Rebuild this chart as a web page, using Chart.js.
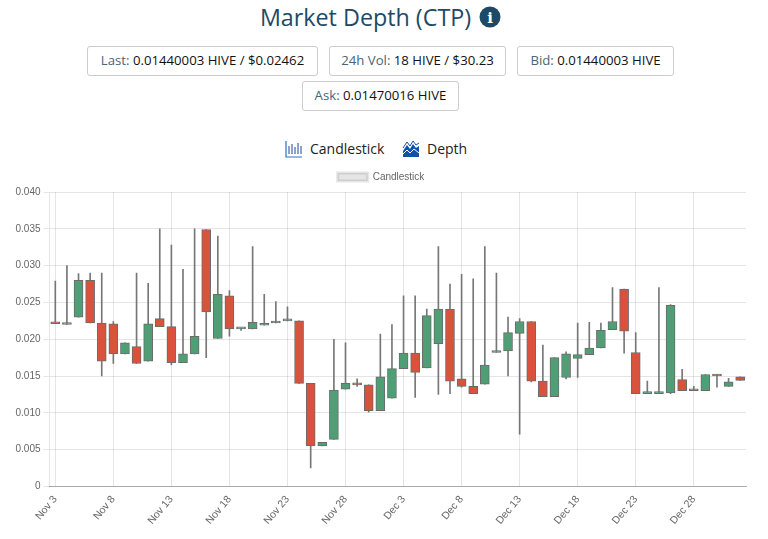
<!DOCTYPE html>
<html>
<head>
<meta charset="utf-8">
<title>Market Depth (CTP)</title>
<script src="https://cdn.jsdelivr.net/npm/chart.js@4/dist/chart.umd.min.js"></script>
<style>
body { margin: 0; background: #fff; width: 768px; height: 539px; overflow: hidden; position: relative; font-family: "Open Sans", sans-serif; }
h1 { position: absolute; left: 0; top: 0; width: 731px; margin: 0; text-align: center; font-size: 23.3px; line-height: 34px; font-weight: 400; color: #1d4a66; }
.info { position: absolute; left: 479px; top: 6px; }
.stat { position: absolute; box-sizing: border-box; height: 30px; border: 1px solid #ccc; border-radius: 3px; font-size: 13.2px; line-height: 27px; text-align: center; color: #111; white-space: nowrap; }
.stat span { color: #4a6478; }
.tab { position: absolute; top: 139px; font-size: 14px; line-height: 20px; color: #222; }
.tab svg { position: absolute; top: 2px; }
#wrap { position: absolute; left: 0; top: 163px; width: 768px; height: 371px; }
</style>
</head>
<body>
<h1>Market Depth (CTP)</h1>
<svg class="info" width="22" height="22" viewBox="0 0 22 22"><circle cx="11" cy="11" r="10.5" fill="#1d4a66"/><text x="11" y="16.5" text-anchor="middle" font-family="DejaVu Serif" font-weight="bold" font-size="15" fill="#fff">i</text></svg>
<div class="stat" style="left:87px;top:46px;width:231px"><span>Last:</span> 0.01440003 HIVE / $0.02462</div>
<div class="stat" style="left:329px;top:46px;width:177px"><span>24h Vol:</span> 18 HIVE / $30.23</div>
<div class="stat" style="left:517px;top:46px;width:157px"><span>Bid:</span> 0.01440003 HIVE</div>
<div class="stat" style="left:302px;top:81px;width:157px"><span>Ask:</span> 0.01470016 HIVE</div>
<div class="tab" style="left:310px">Candlestick<svg style="left:-25px" width="18" height="17" viewBox="0 0 18 17"><path d="M1 0V16H17" fill="none" stroke="#2f6fc4" stroke-width="1.2"/><path d="M4 5V13M7 3V13M10 6V13M13 2V13M16 5V13" stroke="#16469c" stroke-width="1"/></svg></div>
<div class="tab" style="left:427px">Depth<svg style="left:-25px" width="18" height="17" viewBox="0 0 18 17"><path d="M1 10L5 4L8 8L11 3L14 7L17 5V16H1Z" fill="#0f4fae"/><path d="M1 7L5 1L8 5L11 0L14 4L17 2" fill="none" stroke="#0f4fae" stroke-width="1"/><path d="M1 13L5 9L8 12L12 8L17 12" fill="none" stroke="#fff" stroke-width="1"/></svg></div>
<div id="wrap"><canvas id="myChart" width="768" height="371"></canvas></div>
<script>
const dateList = ['Nov 3','Nov 4','Nov 5','Nov 6','Nov 7','Nov 8','Nov 9','Nov 10','Nov 11','Nov 12',
    'Nov 13','Nov 14','Nov 15','Nov 16','Nov 17','Nov 18','Nov 19','Nov 20','Nov 21','Nov 22',
    'Nov 23','Nov 24','Nov 25','Nov 26','Nov 27','Nov 28','Nov 29','Nov 30','Dec 1','Dec 2',
    'Dec 3','Dec 4','Dec 5','Dec 6','Dec 7','Dec 8','Dec 9','Dec 10','Dec 11','Dec 12',
    'Dec 13','Dec 14','Dec 15','Dec 16','Dec 17','Dec 18','Dec 19','Dec 20','Dec 21','Dec 22',
    'Dec 23','Dec 24','Dec 25','Dec 26','Dec 27','Dec 28','Dec 29','Dec 30','Dec 31','Jan 1']
const openList = [.0222,.0220,.0230,.0280,.0222,.0221,.0180,.0190,.0170,.0228,
    .0217,.0168,.0180,.0349,.0201,.0259,.0214,.0214,.0219,.0222,
    .0225,.0225,.0140,.0055,.0064,.0132,.0140,.0138,.0103,.0120,
    .0160,.0181,.0161,.0194,.0241,.0146,.0136,.0139,.0182,.0184,
    .0208,.0224,.0143,.0122,.0148,.0174,.0179,.0188,.0213,.0268,
    .0182,.0126,.0126,.0127,.0145,.0130,.0130,.0152,.0136,.0149]
const closeList = [.0221,.0222,.0280,.0222,.0170,.0180,.0195,.0167,.0221,.0217,
    .0168,.0180,.0204,.0237,.0261,.0214,.0214,.0223,.0221,.0224,
    .0225,.0140,.0055,.0060,.0131,.0140,.0138,.0103,.0149,.0160,
    .0181,.0155,.0232,.0241,.0143,.0136,.0126,.0165,.0184,.0209,
    .0224,.0143,.0122,.0175,.0180,.0179,.0188,.0212,.0224,.0211,
    .0126,.0126,.0126,.0246,.0130,.0130,.0152,.0150,.0142,.0144]
const highList = [.0279,.0300,.0289,.0290,.0290,.0224,.0195,.0290,.0276,.0350,
    .0328,.0295,.0350,.0349,.0340,.0266,.0215,.0326,.0261,.0251,
    .0244,.0225,.0140,.0060,.0200,.0195,.0146,.0138,.0207,.0220,
    .0259,.0259,.0241,.0326,.0275,.0288,.0282,.0326,.0290,.0230,
    .0228,.0224,.0192,.0175,.0183,.0222,.0223,.0222,.0270,.0268,
    .0209,.0143,.0270,.0247,.0159,.0136,.0152,.0152,.0147,.0149]
const lowList = [.0221,.0220,.0230,.0222,.0150,.0167,.0180,.0167,.0170,.0217,
    .0165,.0168,.0180,.0175,.0201,.0204,.0212,.0214,.0219,.0222,
    .0225,.0140,.0025,.0055,.0064,.0132,.0136,.0101,.0103,.0120,
    .0160,.0121,.0161,.0125,.0126,.0135,.0126,.0139,.0182,.0150,
    .0071,.0142,.0122,.0122,.0146,.0148,.0179,.0188,.0213,.0181,
    .0126,.0126,.0126,.0126,.0130,.0130,.0130,.0135,.0136,.0144]

const upColor = '#4f9e75'
const downColor = '#d9523c'

// the legend sits a little right of the plot centre
const legendShift = {
    id: 'legendShift',
    afterLayout: chart => {
        chart.legend.left += 8
        chart.legend.right += 8
    },
}

var ctx = document.getElementById('myChart').getContext('2d');
var myChart = new Chart(ctx, {
    type: 'bar',
    plugins: [legendShift],
    data: {
        labels: dateList,
        datasets: [{
            label: 'Candlestick',
            data: openList.map((o, i) => [o, closeList[i]]),
            backgroundColor: openList.map((o, i) => closeList[i] < o ? downColor : upColor),
            borderColor: '#6b6b6b',
            borderWidth: 1,
            borderSkipped: false,
            barThickness: 9,
            minBarLength: 2,
            grouped: false,
            order: 1,
        }, {
            label: 'wick',
            data: lowList.map((l, i) => [l, highList[i]]),
            backgroundColor: '#777',
            barThickness: 1,
            grouped: false,
            order: 2,
        }]
    },
    options: {
        responsive: false,
        animation: false,
        layout: { padding: { right: 22, bottom: 0 } },
        plugins: {
            tooltip: { enabled: false },
            legend: {
                labels: {
                    boxWidth: 30,
                    boxHeight: 8,
                    padding: 9,
                    color: '#666',
                    font: { family: 'Liberation Sans', size: 10 },
                    generateLabels: () => [{
                        text: 'Candlestick',
                        fillStyle: 'rgba(0,0,0,0.1)',
                        strokeStyle: 'rgba(0,0,0,0.1)',
                        lineWidth: 3,
                        fontColor: '#666',
                    }],
                },
            },
        },
        scales: {
            x: {
                offset: true,
                grid: { offset: false, color: 'rgba(0,0,0,0.1)', tickLength: 0 },
                border: { color: '#aaa' },
                ticks: {
                    autoSkip: true,
                    maxTicksLimit: 12,
                    minRotation: 50,
                    maxRotation: 50,
                    padding: 7,
                    color: '#666',
                    font: { family: 'Liberation Sans', size: 10.5 },
                },
            },
            y: {
                min: 0,
                max: 0.04,
                afterFit: s => { s.width = 49.5 },
                grid: { color: 'rgba(0,0,0,0.1)', tickLength: 6 },
                border: { color: 'rgba(0,0,0,0.1)' },
                ticks: {
                    stepSize: 0.005,
                    padding: 3,
                    color: '#666',
                    font: { family: 'Liberation Sans', size: 10 },
                    callback: v => v === 0 ? '0' : v.toFixed(3),
                },
            },
        },
    },
});
</script>
</body>
</html>
